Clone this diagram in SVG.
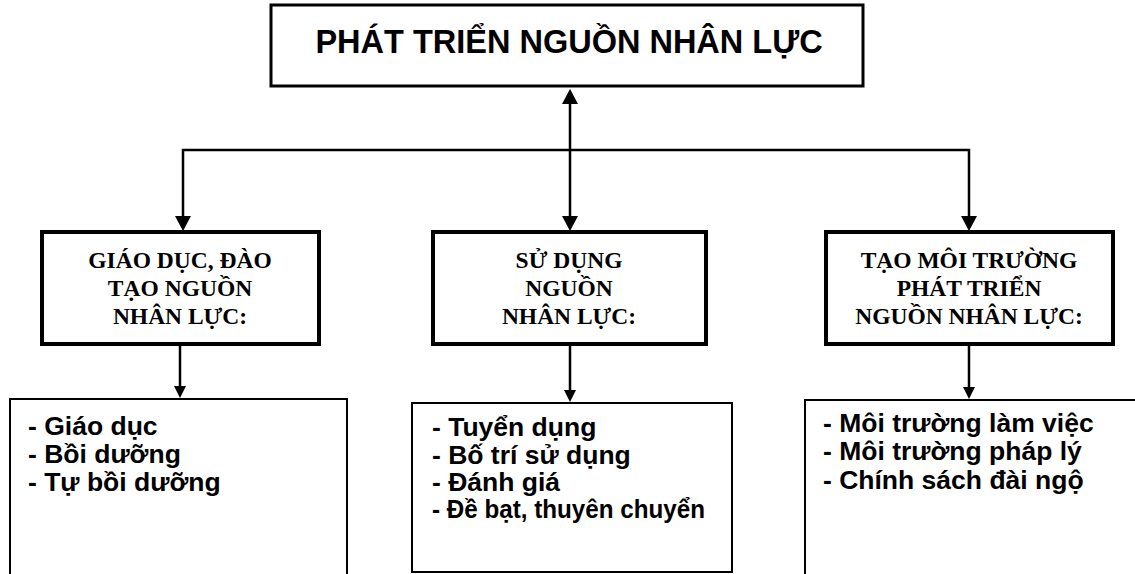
<svg xmlns="http://www.w3.org/2000/svg" width="1135" height="574" viewBox="0 0 1135 574">
  <style>
    .bg { fill: #ffffff; }
    .title-box { fill: #ffffff; stroke: #000000; stroke-width: 3; }
    .mid-box { fill: #ffffff; stroke: #000000; stroke-width: 4; }
    .low-box { fill: #ffffff; stroke: #000000; stroke-width: 2; }
    .title { font-family: "Liberation Sans", Arial, sans-serif; font-weight: bold; font-size: 32.5px; fill: #000; text-anchor: middle; }
    .mid { font-family: "Liberation Serif", "Times New Roman", serif; font-weight: bold; font-size: 23.5px; fill: #000; text-anchor: middle; }
    .low { font-family: "Liberation Sans", Arial, sans-serif; font-weight: bold; font-size: 26.5px; fill: #000; }
    .conn { fill: none; stroke: #000000; stroke-width: 2.5; }
  </style>
  <defs>
    <marker id="big" viewBox="0 0 15 16" refX="0" refY="8" markerWidth="15" markerHeight="16" markerUnits="userSpaceOnUse" orient="auto-start-reverse">
      <path d="M0,0 L15,8 L0,16 Z" fill="#000"/>
    </marker>
    <marker id="small" viewBox="0 0 12 12" refX="0" refY="6" markerWidth="12" markerHeight="12" markerUnits="userSpaceOnUse" orient="auto">
      <path d="M0,0 L12,6 L0,12 Z" fill="#000"/>
    </marker>
  </defs>
  <rect class="bg" x="0" y="0" width="1135" height="574"/>

  <g id="connectors">
    <path class="conn" d="M570,104 L570,216" marker-start="url(#big)" marker-end="url(#big)"/>
    <path class="conn" d="M183,216 L183,150 L969,150 L969,216" marker-start="url(#big)" marker-end="url(#big)"/>
    <path class="conn" d="M180,346 L180,386" marker-end="url(#small)"/>
    <path class="conn" d="M570,346 L570,390" marker-end="url(#small)"/>
    <path class="conn" d="M969,346 L969,387" marker-end="url(#small)"/>
  </g>

  <g id="node-title">
    <rect class="title-box" x="271" y="5" width="592" height="81"/>
    <text class="title" x="569" y="53">PHÁT TRIỂN NGUỒN NHÂN LỰC</text>
  </g>

  <g id="node-giao-duc">
    <rect class="mid-box" x="42" y="232" width="277" height="112"/>
    <text class="mid" x="180" y="268">GIÁO DỤC, ĐÀO</text>
    <text class="mid" x="180" y="296">TẠO NGUỒN</text>
    <text class="mid" x="180" y="324">NHÂN LỰC:</text>
  </g>

  <g id="node-su-dung">
    <rect class="mid-box" x="433" y="232" width="273" height="112"/>
    <text class="mid" x="569" y="268">SỬ DỤNG</text>
    <text class="mid" x="569" y="296">NGUỒN</text>
    <text class="mid" x="569" y="324">NHÂN LỰC:</text>
  </g>

  <g id="node-moi-truong">
    <rect class="mid-box" x="826" y="232" width="287" height="112"/>
    <text class="mid" x="969" y="268">TẠO MÔI TRƯỜNG</text>
    <text class="mid" x="969" y="296">PHÁT TRIỂN</text>
    <text class="mid" x="969" y="324">NGUỒN NHÂN LỰC:</text>
  </g>

  <g id="node-giao-duc-list">
    <rect class="low-box" x="10" y="399" width="337" height="190"/>
    <text class="low" x="28" y="435">- Giáo dục</text>
    <text class="low" x="28" y="463">- Bồi dưỡng</text>
    <text class="low" x="28" y="491">- Tự bồi dưỡng</text>
  </g>

  <g id="node-su-dung-list">
    <rect class="low-box" x="412" y="403" width="320" height="169"/>
    <text class="low" x="432" y="436">- Tuyển dụng</text>
    <text class="low" x="432" y="464">- Bố trí sử dụng</text>
    <text class="low" x="432" y="491">- Đánh giá</text>
    <text class="low" x="432" y="518" textLength="273" lengthAdjust="spacingAndGlyphs">- Đề bạt, thuyên chuyển</text>
  </g>

  <g id="node-moi-truong-list">
    <rect class="low-box" x="805" y="400" width="350" height="190"/>
    <text class="low" x="823" y="432">- Môi trường làm việc</text>
    <text class="low" x="823" y="460">- Môi trường pháp lý</text>
    <text class="low" x="823" y="489">- Chính sách đài ngộ</text>
  </g>
</svg>
